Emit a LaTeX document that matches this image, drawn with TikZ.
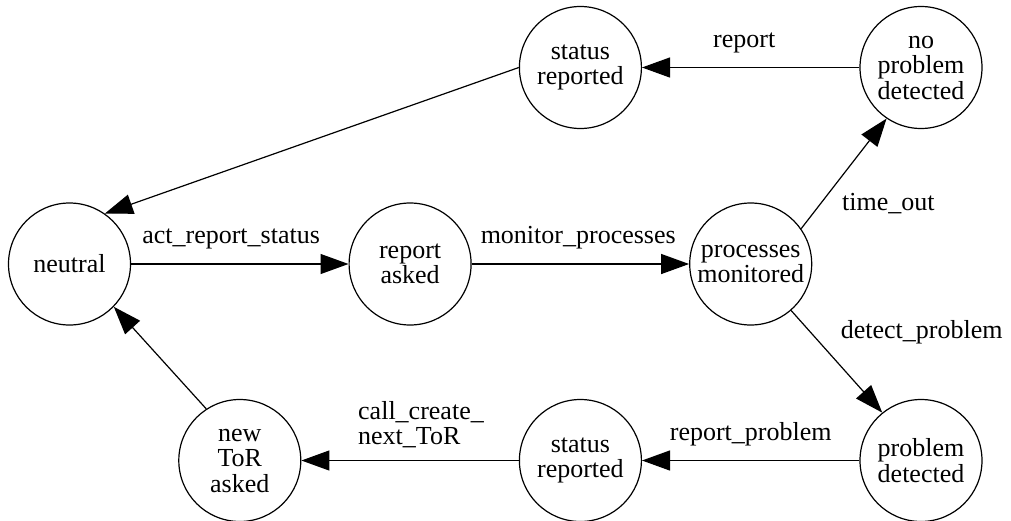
\documentclass[tikz,border=0pt]{standalone}
\usepackage{fontspec}
\setmainfont{Liberation Serif}
\usetikzlibrary{arrows.meta}

\begin{document}
\begin{tikzpicture}[
    x=85.15pt,y=-98.25pt,
    every node/.style={font=\fontsize{13}{12.75}\selectfont},
    state/.style={draw,circle,line width=0.6pt,minimum size=61pt,inner sep=0pt,align=center},
    lbl/.style={inner sep=0pt,align=left},
    arrow/.style={-{Triangle[length=14pt,width=10pt]},line width=0.6pt}
  ]
    \useasboundingbox (-34.75pt,-226.25pt) rectangle (470.75pt,33.75pt);
    \node[state] (neutral) at (0,1) {neutral};
    \node[state] (repasked) at (2,1) {report\\asked};
    \node[state] (procmon) at (4,1) {processes\\monitored};
    \node[state] (statrep) at (3,0) {status\\reported};
    \node[state] (noprob) at (5,0) {no\\problem\\detected};
    \node[state] (probdet) at (5,2) {problem\\detected};
    \node[state] (statprob) at (3,2) {status\\reported};
    \node[state] (newtor) at (1,2) {new\\ToR\\asked};
    \draw[arrow] (neutral) -- node[lbl,pos=0.46,above=7pt] {act\_report\_status} (repasked);
    \draw[arrow] (repasked) -- node[lbl,pos=0.49,above=7pt] {monitor\_processes} (procmon);
    \draw[arrow] (procmon.35) -- node[lbl,pos=0.23,right=10.4pt] {time\_out} (noprob.236);
    \draw[arrow] (procmon.-49) -- node[lbl,pos=0.21,right=15pt] {detect\_problem} (probdet.129);
    \draw[arrow] (noprob) -- node[lbl,pos=0.53,above=7pt] {report} (statrep);
    \draw[arrow] (probdet) -- node[lbl,pos=0.5,above=6.7pt] {report\_problem} (statprob);
    \draw[arrow] (statprob) -- node[lbl,pos=0.45,above=6pt] {call\_create\_\\next\_ToR} (newtor);
    \draw[arrow] (statrep.west) -- (neutral.55);
    \draw[arrow] (newtor.123) -- (neutral.-44);
  \end{tikzpicture}
\end{document}
